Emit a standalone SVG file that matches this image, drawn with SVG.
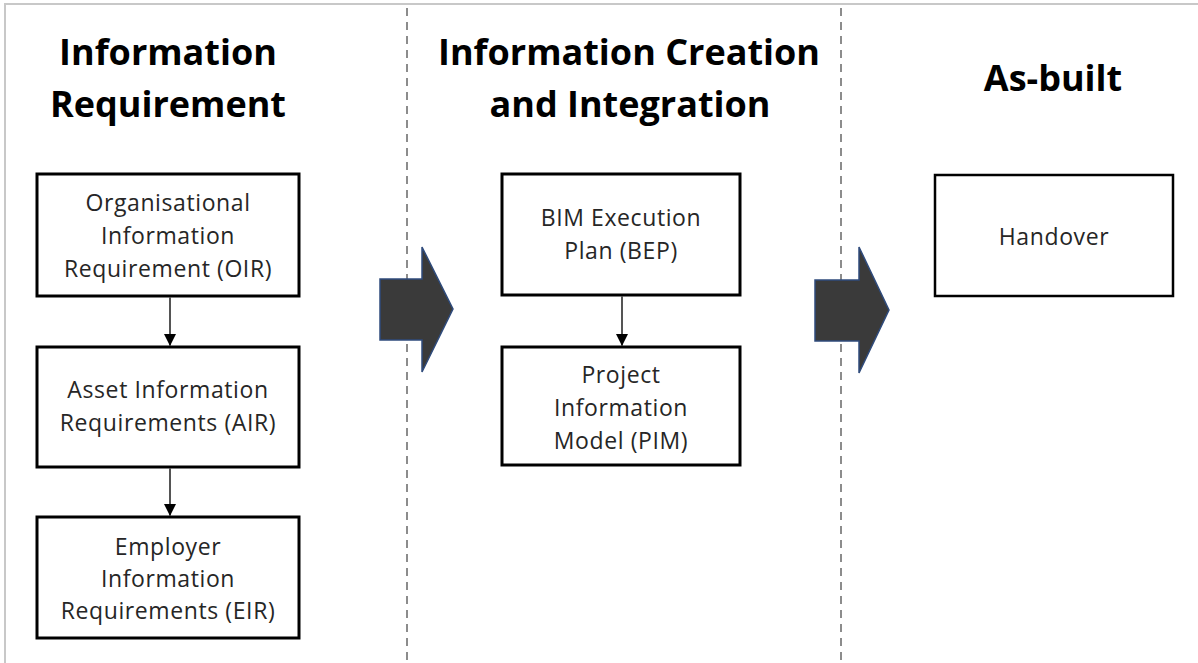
<svg xmlns="http://www.w3.org/2000/svg" width="1198" height="663" viewBox="0 0 1198 663">
  <style>
    .frame { stroke: #c8c8c8; stroke-width: 2; fill: none; }
    .divider { stroke: #8c8c8c; stroke-width: 2; stroke-dasharray: 8 6; fill: none; }
    .title { font-family: "Open Sans", "Liberation Sans", sans-serif; font-weight: 700; font-size: 36px; fill: #000; text-anchor: middle; }
    .box { fill: #fff; stroke: #000; stroke-width: 3; }
    .box-thin { fill: #fff; stroke: #000; stroke-width: 2.5; }
    .label { font-family: "Open Sans", "Liberation Sans", sans-serif; font-size: 23px; letter-spacing: 0.6px; fill: #262626; text-anchor: middle; }
    .link { stroke: #555; stroke-width: 2; fill: none; }
    .block { fill: #3a3a3a; stroke: #2f4b7c; stroke-width: 1.5; }
  </style>
  <defs>
    <marker id="tri" viewBox="0 0 12 12" refX="12" refY="6" markerWidth="12" markerHeight="12" markerUnits="userSpaceOnUse" orient="auto">
      <path d="M0,0 L12,6 L0,12 Z" fill="#000"/>
    </marker>
  </defs>

  <rect width="1198" height="663" fill="#fff"/>
  <!-- outer frame: left and top edges only -->
  <path class="frame" d="M5,663 L5,4 L1198,4"/>

  <!-- column dividers -->
  <line class="divider" x1="407" y1="8" x2="407" y2="663"/>
  <line class="divider" x1="841" y1="8" x2="841" y2="663"/>

  <!-- column headings -->
  <g id="heading-requirement">
    <text class="title" x="168" y="65">Information</text>
    <text class="title" x="168" y="117">Requirement</text>
  </g>
  <g id="heading-creation">
    <text class="title" x="629" y="65">Information Creation</text>
    <text class="title" x="630" y="117">and Integration</text>
  </g>
  <g id="heading-asbuilt">
    <text class="title" x="1053" y="91">As-built</text>
  </g>

  <!-- phase arrows -->
  <g id="phase-arrow-1">
    <path class="block" d="M380,279 L422,279 L422,247 L453,309 L422,372 L422,340 L380,340 Z"/>
  </g>
  <g id="phase-arrow-2">
    <path class="block" d="M815,280 L859,280 L859,247 L889,310 L859,373 L859,341 L815,341 Z"/>
  </g>

  <!-- nodes -->
  <g id="oir">
    <rect class="box" x="37" y="174" width="262" height="122"/>
    <text class="label" x="168" y="211">Organisational</text>
    <text class="label" x="168" y="244">Information</text>
    <text class="label" x="168" y="277">Requirement (OIR)</text>
  </g>
  <g id="air">
    <rect class="box" x="37" y="347" width="262" height="120"/>
    <text class="label" x="168" y="398">Asset Information</text>
    <text class="label" x="168" y="431">Requirements (AIR)</text>
  </g>
  <g id="eir">
    <rect class="box" x="37" y="517" width="262" height="121"/>
    <text class="label" x="168" y="555">Employer</text>
    <text class="label" x="168" y="587">Information</text>
    <text class="label" x="168" y="619">Requirements (EIR)</text>
  </g>
  <g id="bep">
    <rect class="box" x="502" y="174" width="238" height="121"/>
    <text class="label" x="621" y="226">BIM Execution</text>
    <text class="label" x="621" y="259">Plan (BEP)</text>
  </g>
  <g id="pim">
    <rect class="box" x="502" y="347" width="238" height="118"/>
    <text class="label" x="621" y="383">Project</text>
    <text class="label" x="621" y="416">Information</text>
    <text class="label" x="621" y="449">Model (PIM)</text>
  </g>
  <g id="handover">
    <rect class="box-thin" x="935" y="175" width="238" height="121"/>
    <text class="label" x="1054" y="245">Handover</text>
  </g>

  <!-- connectors -->
  <g id="connectors">
    <line class="link" x1="170" y1="297" x2="170" y2="346" marker-end="url(#tri)"/>
    <line class="link" x1="170" y1="468" x2="170" y2="516" marker-end="url(#tri)"/>
    <line class="link" x1="622" y1="296" x2="622" y2="346" marker-end="url(#tri)"/>
  </g>
</svg>
